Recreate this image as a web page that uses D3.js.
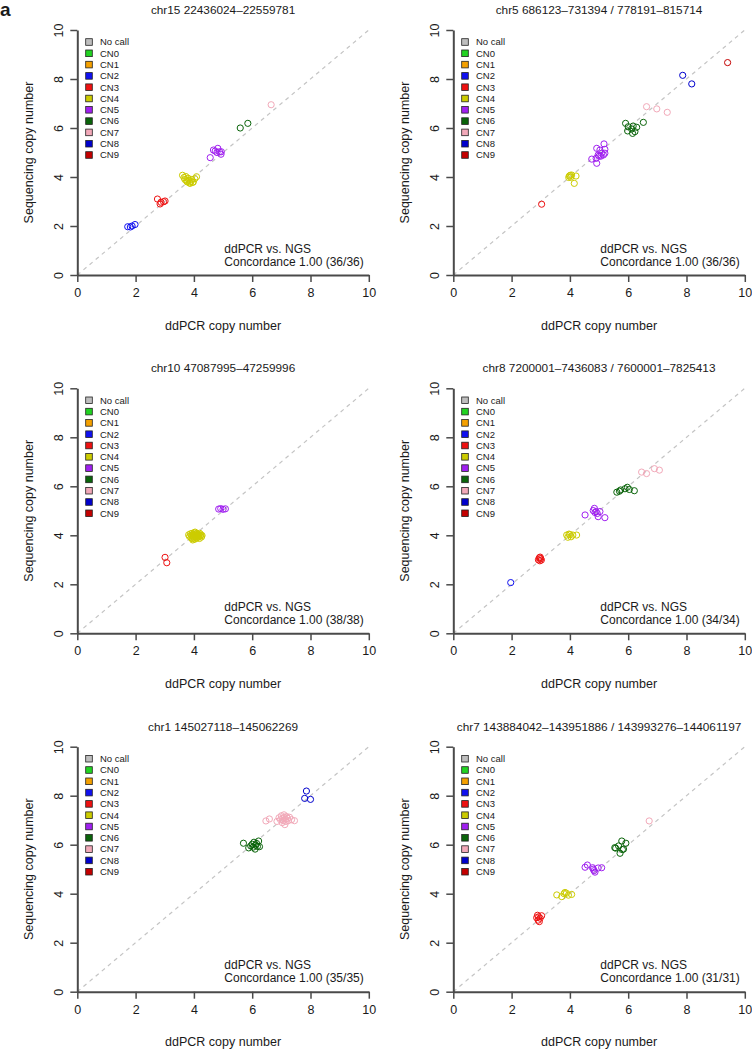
<!DOCTYPE html>
<html lang="en">
<head>
<meta charset="utf-8">
<title>ddPCR vs NGS</title>
<script src="https://d3js.org/d3.v7.min.js"></script>
<style>
  body { margin: 0; background: #fff; }
  svg text { font-family: "Liberation Sans", Arial, Helvetica, sans-serif; fill: #1a1a1a; }
</style>
</head>
<body>
<div id="chart"></div>
<script>
// legend categories and colours
const cnLabels = ["No call", "CN0", "CN1", "CN2", "CN3", "CN4", "CN5", "CN6", "CN7", "CN8", "CN9"];
const cnColors = ["#bebebe", "#22d322", "#f4a000", "#1010f0", "#ee1111", "#cccc00", "#a020f0", "#0a640a", "#f2a9b9", "#0000cd", "#c40000"];

const titles = [
  "chr15 22436024\u201322559781",
  "chr5 686123\u2013731394 / 778191\u2013815714",
  "chr10 47087995\u201347259996",
  "chr8 7200001\u20137436083 / 7600001\u20137825413",
  "chr1 145027118\u2013145062269",
  "chr7 143884042\u2013143951886 / 143993276\u2013144061197"
];
const concordance = ["1.00 (36/36)", "1.00 (36/36)", "1.00 (38/38)", "1.00 (34/34)", "1.00 (35/35)", "1.00 (31/31)"];
const ticks = [0, 2, 4, 6, 8, 10];

// points: [ddPCR, sequencing, CN index into legend]
const panel1 = [
  [1.73,1.97,3],[1.82,1.96,3],[1.88,2.00,3],[1.98,2.06,3],
  [2.75,3.10,4],[2.84,2.90,4],[2.87,2.97,4],[2.96,2.99,4],[3.01,3.02,4],
  [3.61,4.07,5],[3.66,3.98,5],[3.69,3.90,5],[3.72,4.02,5],[3.75,3.84,5],[3.77,3.80,5],[3.80,3.95,5],[3.82,3.88,5],
  [3.85,3.76,5],[3.87,3.74,5],[3.90,3.82,5],[3.93,3.90,5],[3.96,3.78,5],[3.98,3.80,5],[4.03,3.93,5],[4.09,4.01,5],
  [4.56,4.79,6],[4.67,5.10,6],[4.73,5.06,6],[4.79,5.00,6],[4.82,5.17,6],[4.88,5.03,6],[4.93,4.93,6],[4.94,5.03,6],
  [5.59,6.00,7],[5.85,6.19,7],
  [6.65,6.95,8]
];
const panel2 = [
  [3.03,2.89,4],
  [3.96,3.98,5],[3.98,4.04,5],[4.01,4.07,5],[4.03,3.99,5],[4.06,4.08,5],[4.15,3.74,5],[4.21,4.04,5],
  [4.75,4.73,6],[4.90,4.76,6],[4.92,4.56,6],[4.92,5.17,6],[4.97,4.90,6],[5.00,4.85,6],[5.03,5.10,6],
  [5.06,4.85,6],[5.09,4.97,6],[5.15,4.90,6],[5.17,5.35,6],[5.20,5.13,6],[5.20,4.97,6],
  [5.91,6.19,7],[5.98,5.88,7],[6.00,6.05,7],[6.12,5.96,7],[6.15,5.78,7],[6.17,6.08,7],[6.23,5.85,7],[6.29,6.03,7],[6.52,6.23,7],
  [6.63,6.87,8],[6.98,6.78,8],[7.34,6.64,8],
  [7.87,8.15,9],[8.18,7.80,9],
  [9.41,8.67,10]
];
const panel3 = [
  [3.01,3.10,4],[3.07,2.88,4],
  [3.82,4.02,5],[3.85,3.95,5],[3.88,4.06,5],[3.90,3.90,5],[3.92,4.00,5],[3.94,4.08,5],[3.95,3.86,5],[3.97,3.96,5],
  [3.98,4.03,5],[4.00,3.92,5],[4.01,4.10,5],[4.02,3.99,5],[4.03,3.84,5],[4.05,4.05,5],[4.06,3.94,5],[4.07,4.01,5],
  [4.08,3.88,5],[4.10,4.07,5],[4.11,3.97,5],[4.12,4.02,5],[4.13,3.91,5],[4.15,4.04,5],[4.16,3.95,5],[4.18,4.00,5],
  [4.19,3.87,5],[4.20,4.08,5],[4.22,3.97,5],[4.24,4.02,5],[4.26,3.93,5],[4.28,3.99,5],[4.04,4.13,5],[3.96,3.81,5],
  [4.85,5.07,6],[4.92,5.09,6],[5.00,5.06,6],[5.08,5.08,6]
];
const panel4 = [
  [1.97,2.07,3],
  [2.92,3.00,4],[2.95,3.08,4],[2.97,2.96,4],[3.00,3.05,4],[3.02,2.99,4],[2.98,3.11,4],
  [3.89,4.01,5],[3.93,3.92,5],[3.97,4.05,5],[4.00,4.03,5],[4.04,3.94,5],[4.10,4.01,5],[4.23,4.01,5],
  [4.52,4.83,6],[4.80,5.01,6],[4.84,5.10,6],[4.86,4.93,6],[4.90,4.97,6],[4.94,4.89,6],[4.97,4.76,6],[5.03,4.97,6],[5.20,4.72,6],
  [5.61,5.76,7],[5.70,5.80,7],[5.74,5.85,7],[5.89,5.90,7],[5.97,5.96,7],[6.04,5.87,7],[6.21,5.82,7],
  [6.46,6.58,8],[6.63,6.52,8],[6.90,6.72,8],[7.07,6.66,8]
];
const panel5 = [
  [5.70,6.06,7],[5.88,5.87,7],[5.95,5.95,7],[6.00,6.02,7],[6.03,5.90,7],[6.06,6.10,7],
  [6.10,5.82,7],[6.12,5.98,7],[6.15,6.05,7],[6.18,5.93,7],[6.22,6.15,7],[6.25,5.92,7],
  [6.47,6.97,8],[6.59,7.05,8],[6.85,6.95,8],[6.92,7.10,8],[6.97,7.02,8],[7.00,7.18,8],[7.03,6.90,8],
  [7.05,7.07,8],[7.07,6.98,8],[7.09,7.22,8],[7.10,7.12,8],[7.12,6.82,8],[7.14,7.04,8],[7.16,6.95,8],
  [7.18,7.15,8],[7.21,7.08,8],[7.24,6.98,8],[7.28,7.12,8],[7.35,7.02,8],[7.45,6.98,8],
  [7.80,7.89,9],[7.86,8.19,9],[8.00,7.85,9]
];
const panel6 = [
  [2.86,3.02,4],[2.89,3.12,4],[2.91,2.92,4],[2.93,3.06,4],[2.95,2.86,4],[2.98,3.00,4],[3.03,3.10,4],
  [3.55,3.95,5],[3.72,3.88,5],[3.80,4.00,5],[3.83,4.05,5],[3.88,4.02,5],[3.95,3.94,5],[4.06,3.97,5],
  [4.52,5.08,6],[4.60,5.17,6],[4.78,5.06,6],[4.80,5.00,6],[4.83,4.94,6],[4.86,4.88,6],[4.97,5.05,6],[5.09,5.06,6],
  [5.54,5.88,7],[5.57,5.86,7],[5.67,5.95,7],[5.72,5.65,7],[5.78,6.15,7],[5.80,5.80,7],[5.84,5.82,7],[5.92,6.06,7],
  [6.72,6.97,8]
];
const panels = [panel1, panel2, panel3, panel4, panel5, panel6];

const width = 752, height = 1049;
const colX = [77.3, 453.3];
const rowY = [30, 388.3, 746.7];
const pw = 291.5, ph = 245;

const svg = d3.select("#chart").append("svg")
  .attr("width", width).attr("height", height);

svg.append("text")
  .attr("x", 0).attr("y", 16)
  .attr("font-size", 19).attr("font-weight", "bold")
  .text("a");

panels.forEach((pts, i) => {
  const x0 = colX[i % 2], y0 = rowY[Math.floor(i / 2)];
  const x = d3.scaleLinear().domain([0, 10]).range([x0, x0 + pw]);
  const y = d3.scaleLinear().domain([0, 10]).range([y0 + ph, y0]);
  const g = svg.append("g");

  // title
  g.append("text")
    .attr("x", x(5)).attr("y", y0 - 16)
    .attr("text-anchor", "middle").attr("font-size", 11.8)
    .text(titles[i]);

  // identity line
  g.append("line")
    .attr("x1", x(0)).attr("y1", y(0)).attr("x2", x(10)).attr("y2", y(10))
    .attr("stroke", "#c4c4c4").attr("stroke-width", 1.2)
    .attr("stroke-dasharray", "4,4");

  // axes
  const xa = g.append("g")
    .attr("transform", `translate(0,${y(0)})`)
    .call(d3.axisBottom(x).tickValues(ticks).tickSize(7).tickPadding(6).tickSizeOuter(0));
  const ya = g.append("g")
    .attr("transform", `translate(${x(0)},0)`)
    .call(d3.axisLeft(y).tickValues(ticks).tickSize(7).tickPadding(6).tickSizeOuter(0));
  [xa, ya].forEach(a => {
    a.select(".domain").attr("stroke", "#4a4a4a").attr("stroke-width", 2);
    a.selectAll(".tick line").attr("stroke", "#4a4a4a").attr("stroke-width", 1.5);
    a.selectAll(".tick text").attr("font-size", 12.5).attr("font-family", "Liberation Sans, Arial, sans-serif").attr("fill", "#1a1a1a");
  });
  // R style: y tick labels rotated
  ya.selectAll(".tick text")
    .attr("x", null)
    .attr("text-anchor", "middle")
    .attr("transform", "translate(-19,0) rotate(-90)")
    .attr("dy", "0.35em");
  xa.selectAll(".tick text").attr("dy", "0.71em").attr("y", 13);

  // axis titles
  g.append("text")
    .attr("x", x(5)).attr("y", y(0) + 54.5)
    .attr("text-anchor", "middle").attr("font-size", 12.5)
    .text("ddPCR copy number");
  g.append("text")
    .attr("transform", `translate(${x0 - 49},${y(5)}) rotate(-90)`)
    .attr("dy", "0.35em")
    .attr("text-anchor", "middle").attr("font-size", 12.5)
    .text("Sequencing copy number");

  // legend
  const lg = g.append("g").attr("transform", `translate(${x0 + 11.7},${y0 + 12})`);
  cnLabels.forEach((lab, k) => {
    lg.append("rect")
      .attr("x", -3.3).attr("y", k * 11.3 - 3.3)
      .attr("width", 6.6).attr("height", 6.6)
      .attr("fill", cnColors[k]).attr("stroke", "#222").attr("stroke-width", 0.8);
    lg.append("text")
      .attr("x", 11).attr("y", k * 11.3)
      .attr("dy", "0.35em").attr("font-size", 9.5)
      .text(lab);
  });

  // points
  g.append("g").selectAll("circle")
    .data(pts)
    .join("circle")
    .attr("cx", d => x(d[0]))
    .attr("cy", d => y(d[1]))
    .attr("r", 3.1)
    .attr("fill", "none")
    .attr("stroke", d => cnColors[d[2]])
    .attr("stroke-width", 1);

  // annotation
  g.append("text")
    .attr("x", x0 + 147).attr("y", y(0) - 22.5)
    .attr("font-size", 12)
    .text("ddPCR vs. NGS");
  g.append("text")
    .attr("x", x0 + 147).attr("y", y(0) - 9.5)
    .attr("font-size", 12)
    .text("Concordance " + concordance[i]);
});
</script>
</body>
</html>
